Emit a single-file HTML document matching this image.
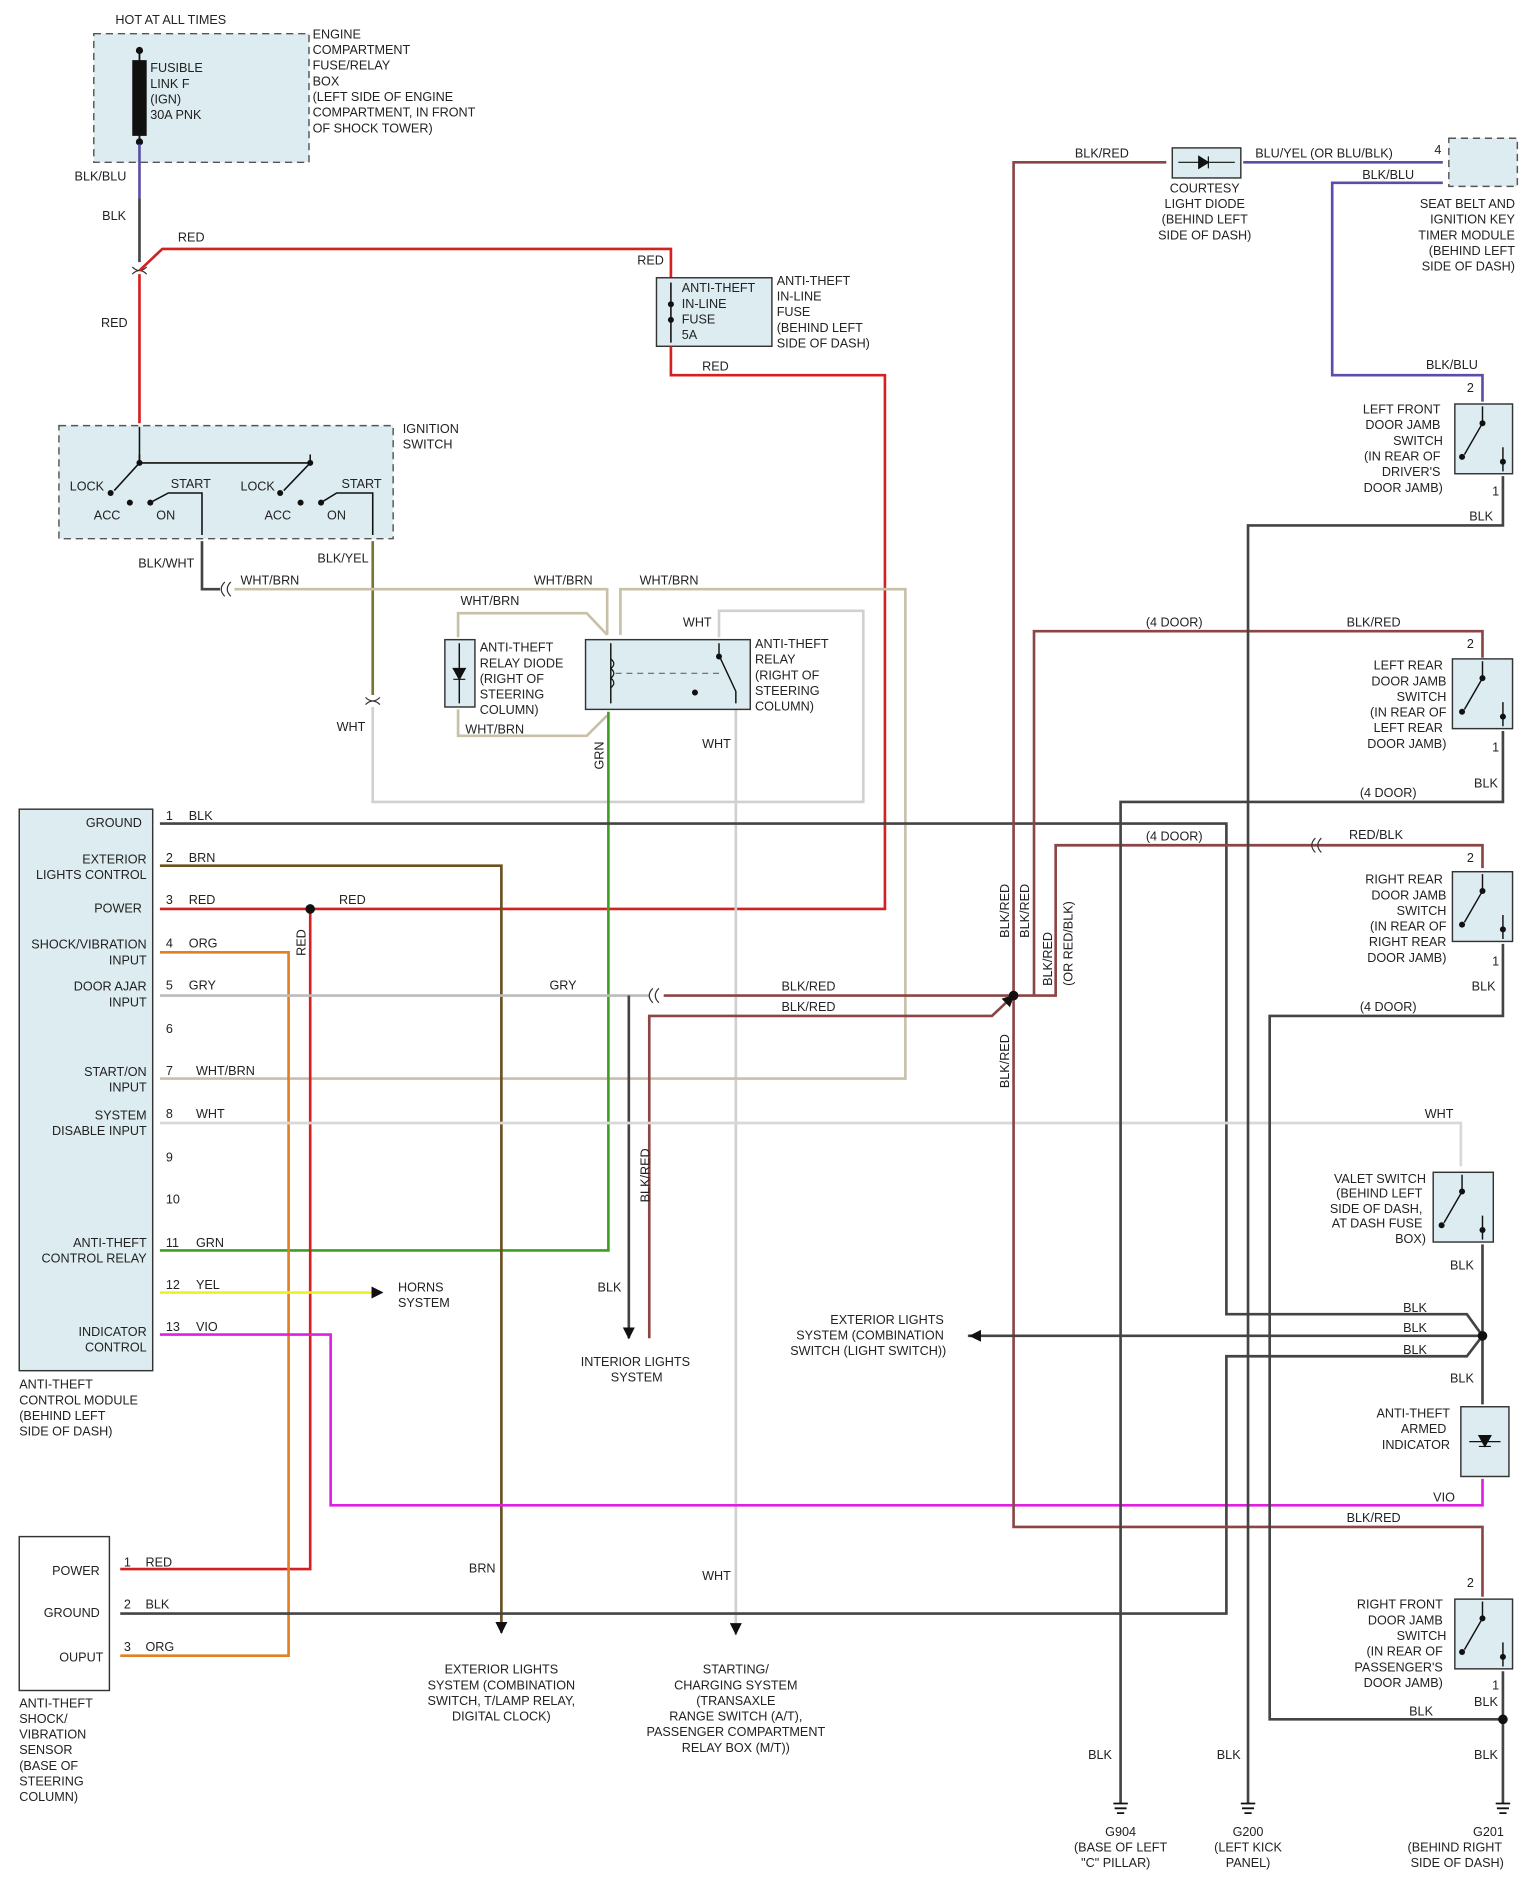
<!DOCTYPE html>
<html><head><meta charset="utf-8"><style>
html,body{margin:0;padding:0;background:#fff;}
svg{display:block;}
text{font-family:"Liberation Sans",sans-serif;font-size:10.5px;fill:#222;}
.bx{fill:#dcecf0;stroke:#333;stroke-width:1.2;}
.db{fill:#dcecf0;stroke:#555;stroke-width:1.2;stroke-dasharray:6,4;}
.w{fill:none;stroke-width:2.2;}
</style></head><body>
<svg width="1539" height="1899" viewBox="0 0 1280 1579.4" xmlns="http://www.w3.org/2000/svg">
<defs><marker id="ar" markerWidth="10" markerHeight="10" refX="9" refY="5" orient="auto" markerUnits="userSpaceOnUse"><path d="M0,0 L10,5 L0,10z" fill="#111"/></marker></defs>
<rect width="1280" height="1580" fill="#fff"/>
<!-- fuse box -->
<text x="96" y="20">HOT AT ALL TIMES</text>
<rect class="db" x="78" y="28" width="179" height="107"/>
<rect x="110" y="50" width="12" height="63" fill="#111"/>
<line x1="116" y1="40" x2="116" y2="118" stroke="#111" stroke-width="1.5"/>
<circle cx="116" cy="42" r="3" fill="#111"/><circle cx="116" cy="118" r="3" fill="#111"/>
<text x="125" y="60">FUSIBLE</text><text x="125" y="73">LINK F</text><text x="125" y="86">(IGN)</text><text x="125" y="99">30A PNK</text>
<text x="260" y="32">ENGINE</text><text x="260" y="45">COMPARTMENT</text><text x="260" y="58">FUSE/RELAY</text><text x="260" y="71">BOX</text><text x="260" y="84">(LEFT SIDE OF ENGINE</text><text x="260" y="97">COMPARTMENT, IN FRONT</text><text x="260" y="110">OF SHOCK TOWER)</text>
<line class="w" x1="116" y1="120" x2="116" y2="165" stroke="#5a4fa8"/>
<text x="62" y="150">BLK/BLU</text><text x="85" y="183">BLK</text>
<line class="w" x1="116" y1="165" x2="116" y2="218" stroke="#444"/>
<path d="M110,222 q6,6 12,0 M110,228 q6,-6 12,0" stroke="#333" fill="none"/>
<path class="w" d="M116,228 L116,352 M116,225 L135,207 L558,207 L558,232" stroke="#d42020"/>
<text x="148" y="201">RED</text><text x="84" y="272">RED</text><text x="530" y="220">RED</text>
<!-- anti-theft fuse -->
<rect class="bx" x="546" y="231" width="96" height="57"/>
<line x1="558" y1="235" x2="558" y2="285" stroke="#111" stroke-width="1.3"/>
<circle cx="558" cy="253" r="2.5" fill="#111"/><circle cx="558" cy="266" r="2.5" fill="#111"/>
<text x="567" y="243">ANTI-THEFT</text><text x="567" y="256">IN-LINE</text><text x="567" y="269">FUSE</text><text x="567" y="282">5A</text>
<text x="646" y="237">ANTI-THEFT</text><text x="646" y="250">IN-LINE</text><text x="646" y="263">FUSE</text><text x="646" y="276">(BEHIND LEFT</text><text x="646" y="289">SIDE OF DASH)</text>
<path class="w" d="M558,288 L558,312 L736,312 L736,756 L133,756" stroke="#d42020"/>
<text x="584" y="308">RED</text>
<!-- ignition switch -->
<rect class="db" x="49" y="354" width="278" height="94"/>
<text x="335" y="360">IGNITION</text><text x="335" y="373">SWITCH</text>
<g stroke="#111" stroke-width="1.3" fill="none">
<path d="M116,355 L116,385 L95,408 M258,385 L236,408 M116,385 L258,385"/>
<path d="M116,385 L116,378 M258,385 L258,378"/>
<path d="M125,418 L140,410 L168,410 L168,445 M267,418 L280,410 L310,410 L310,445"/>
</g>
<g fill="#111"><circle cx="116" cy="385" r="2.5"/><circle cx="258" cy="385" r="2.5"/><circle cx="92" cy="410" r="2.5"/><circle cx="108" cy="418" r="2.5"/><circle cx="125" cy="418" r="2.5"/><circle cx="233" cy="410" r="2.5"/><circle cx="250" cy="418" r="2.5"/><circle cx="267" cy="418" r="2.5"/></g>
<text x="58" y="408">LOCK</text><text x="142" y="406">START</text><text x="78" y="432">ACC</text><text x="130" y="432">ON</text>
<text x="200" y="408">LOCK</text><text x="284" y="406">START</text><text x="220" y="432">ACC</text><text x="272" y="432">ON</text>
<text x="115" y="472">BLK/WHT</text><text x="264" y="468">BLK/YEL</text>
<path class="w" d="M168,450 L168,490 L183,490" stroke="#444"/>
<path d="M187,484 q-6,6 0,12 M192,484 q-6,6 0,12" stroke="#333" fill="none"/>
<path class="w" d="M310,450 L310,578" stroke="#7a7530"/>
<path d="M304,580 q6,6 12,0 M304,586 q6,-6 12,0" stroke="#333" fill="none"/>
<text x="280" y="608">WHT</text>
<path class="w" d="M310,588 L310,667 L718,667 L718,508 L598,508 L598,530" stroke="#d0d0d0"/>
<path class="w" d="M612,590 L612,1360" stroke="#d0d0d0"/>
<text x="568" y="521">WHT</text><text x="584" y="622">WHT</text>
<!-- WHT/BRN -->
<path class="w" d="M195,490 L505,490 L505,528 M516,528 L516,490 L753,490 L753,897 L133,897" stroke="#c8c0a8"/>
<path class="w" d="M381,530 L381,510 L488,510 L505,528 M381,590 L381,612 L488,612 L505,595" stroke="#c8c0a8"/>
<text x="200" y="486">WHT/BRN</text><text x="444" y="486">WHT/BRN</text><text x="532" y="486">WHT/BRN</text><text x="383" y="503">WHT/BRN</text><text x="387" y="610">WHT/BRN</text>
<!-- diode -->
<rect class="bx" x="370" y="532" width="25" height="56"/>
<line x1="382" y1="535" x2="382" y2="585" stroke="#111" stroke-width="1.2"/>
<path d="M377,556 L387,556 L382,565z M377,565 L387,565" fill="#111" stroke="#111"/>
<text x="399" y="542">ANTI-THEFT</text><text x="399" y="555">RELAY DIODE</text><text x="399" y="568">(RIGHT OF</text><text x="399" y="581">STEERING</text><text x="399" y="594">COLUMN)</text>
<!-- relay -->
<rect class="bx" x="487" y="532" width="137" height="58"/>
<path d="M508,535 L508,585 M598,535 L598,545 L612,575 L612,585" stroke="#111" stroke-width="1.2" fill="none"/>
<path d="M508,548 q5,4 0,8 q5,4 0,8 q5,4 0,8" stroke="#111" fill="none"/>
<line x1="512" y1="560" x2="600" y2="560" stroke="#666" stroke-dasharray="5,4"/>
<circle cx="598" cy="546" r="2.5" fill="#111"/><circle cx="578" cy="576" r="2.5" fill="#111"/>
<text x="628" y="539">ANTI-THEFT</text><text x="628" y="552">RELAY</text><text x="628" y="565">(RIGHT OF</text><text x="628" y="578">STEERING</text><text x="628" y="591">COLUMN)</text>
<path class="w" d="M506,592 L506,1040 L133,1040" stroke="#3ea020"/>
<text x="502" y="640" transform="rotate(-90 502 640)">GRN</text>
<!-- module -->
<rect class="bx" x="16" y="673" width="111" height="467"/>
<g text-anchor="end">
<text x="118" y="688">GROUND</text><text x="122" y="718">EXTERIOR</text><text x="122" y="731">LIGHTS CONTROL</text><text x="118" y="759">POWER</text>
<text x="122" y="789">SHOCK/VIBRATION</text><text x="122" y="802">INPUT</text><text x="122" y="824">DOOR AJAR</text><text x="122" y="837">INPUT</text>
<text x="122" y="895">START/ON</text><text x="122" y="908">INPUT</text><text x="122" y="931">SYSTEM</text><text x="122" y="944">DISABLE INPUT</text>
<text x="122" y="1037">ANTI-THEFT</text><text x="122" y="1050">CONTROL RELAY</text><text x="122" y="1111">INDICATOR</text><text x="122" y="1124">CONTROL</text>
</g>
<g font-size="10"><text x="138" y="682">1</text><text x="138" y="717">2</text><text x="138" y="752">3</text><text x="138" y="788">4</text><text x="138" y="823">5</text><text x="138" y="859">6</text><text x="138" y="894">7</text><text x="138" y="930">8</text><text x="138" y="966">9</text><text x="138" y="1001">10</text><text x="138" y="1037">11</text><text x="138" y="1072">12</text><text x="138" y="1107">13</text></g>
<text x="157" y="682">BLK</text><text x="157" y="717">BRN</text><text x="157" y="752">RED</text><text x="157" y="788">ORG</text><text x="157" y="823">GRY</text><text x="163" y="894">WHT/BRN</text><text x="163" y="930">WHT</text><text x="163" y="1037">GRN</text><text x="163" y="1072">YEL</text><text x="163" y="1107">VIO</text>
<text x="16" y="1155">ANTI-THEFT</text><text x="16" y="1168">CONTROL MODULE</text><text x="16" y="1181">(BEHIND LEFT</text><text x="16" y="1194">SIDE OF DASH)</text>
<!-- module wires -->
<path class="w" d="M133,685 L1020,685 L1020,1093 L1220,1093 L1233,1111" stroke="#444"/>
<path class="w" d="M133,720 L417,720 L417,1358" stroke="#6b5020" marker-end="url(#ar)"/>
<text x="282" y="752">RED</text>
<path class="w" d="M258,756 L258,1305 L100,1305" stroke="#d42020"/>
<circle cx="258" cy="756" r="4" fill="#111"/>
<text x="254" y="795" transform="rotate(-90 254 795)">RED</text>
<path class="w" d="M133,792 L240,792 L240,1377 L100,1377" stroke="#e08020"/>
<path class="w" d="M133,828 L540,828" stroke="#bbb"/>
<text x="457" y="823">GRY</text>
<path d="M543,822 q-6,6 0,12 M548,822 q-6,6 0,12" stroke="#333" fill="none"/>
<path class="w" d="M552,828 L843,828 L878,828 L878,703 L1233,703 L1233,722 M860,828 L860,525 L1233,525 L1233,547" stroke="#8b4545"/>
<path class="w" d="M523,828 L523,1113" stroke="#444" marker-end="url(#ar)"/>
<path class="w" d="M540,1113 L540,845 L825,845 L843,828" stroke="#8b4545" marker-end="url(#ar)"/>
<text x="650" y="824">BLK/RED</text><text x="650" y="841">BLK/RED</text>
<text x="540" y="1000" transform="rotate(-90 540 1000)">BLK/RED</text><text x="497" y="1074">BLK</text>
<text x="483" y="1136">INTERIOR LIGHTS</text><text x="508" y="1149">SYSTEM</text>
<path class="w" d="M133,934 L1215,934 L1215,970" stroke="#d8d8d8"/>
<text x="1185" y="930">WHT</text>
<path class="w" d="M133,1075 L318,1075" stroke="#f0f020" marker-end="url(#ar)"/>
<text x="331" y="1074">HORNS</text><text x="331" y="1087">SYSTEM</text>
<path class="w" d="M133,1110 L275,1110 L275,1252 L1233,1252 L1233,1230" stroke="#e020e0"/>
<text x="1192" y="1249">VIO</text>
<!-- sensor -->
<rect x="16" y="1278" width="75" height="128" fill="#fff" stroke="#333" stroke-width="1.2"/>
<text x="83" y="1310" text-anchor="end">POWER</text><text x="83" y="1345" text-anchor="end">GROUND</text><text x="86" y="1382" text-anchor="end">OUPUT</text>
<text x="103" y="1303">1</text><text x="103" y="1338">2</text><text x="103" y="1373">3</text>
<text x="121" y="1303">RED</text><text x="121" y="1338">BLK</text><text x="121" y="1373">ORG</text>
<text x="16" y="1420">ANTI-THEFT</text><text x="16" y="1433">SHOCK/</text><text x="16" y="1446">VIBRATION</text><text x="16" y="1459">SENSOR</text><text x="16" y="1472">(BASE OF</text><text x="16" y="1485">STEERING</text><text x="16" y="1498">COLUMN)</text>
<path class="w" d="M100,1342 L1020,1342 L1020,1128 L1220,1128 L1233,1111" stroke="#444"/>
<text x="390" y="1308">BRN</text><text x="584" y="1314">WHT</text>
<path d="M612,1358 l0,1" stroke="#d0d0d0" marker-end="url(#ar)"/>
<g text-anchor="middle"><text x="417" y="1392">EXTERIOR LIGHTS</text><text x="417" y="1405">SYSTEM (COMBINATION</text><text x="417" y="1418">SWITCH, T/LAMP RELAY,</text><text x="417" y="1431">DIGITAL CLOCK)</text>
<text x="612" y="1392">STARTING/</text><text x="612" y="1405">CHARGING SYSTEM</text><text x="612" y="1418">(TRANSAXLE</text><text x="612" y="1431">RANGE SWITCH (A/T),</text><text x="612" y="1444">PASSENGER COMPARTMENT</text><text x="612" y="1457">RELAY BOX (M/T))</text></g>
<!-- right side -->
<path class="w" d="M843,828 L843,135 L970,135 M843,828 L843,1270 L1233,1270 L1233,1328" stroke="#8b4545"/>
<circle cx="843" cy="828" r="4" fill="#111"/>
<text x="894" y="131">BLK/RED</text><text x="1120" y="1266">BLK/RED</text>
<text x="839" y="780" transform="rotate(-90 839 780)">BLK/RED</text><text x="856" y="780" transform="rotate(-90 856 780)">BLK/RED</text>
<text x="875" y="820" transform="rotate(-90 875 820)">BLK/RED</text><text x="892" y="820" transform="rotate(-90 892 820)">(OR RED/BLK)</text>
<text x="839" y="905" transform="rotate(-90 839 905)">BLK/RED</text>
<rect class="bx" x="975" y="123" width="57" height="25"/>
<path d="M980,135 L1027,135 M997,130 L997,140 L1005,135z M1005,130 L1005,140" stroke="#111" fill="#111"/>
<g text-anchor="middle"><text x="1002" y="160">COURTESY</text><text x="1002" y="173">LIGHT DIODE</text><text x="1002" y="186">(BEHIND LEFT</text><text x="1002" y="199">SIDE OF DASH)</text></g>
<path class="w" d="M1034,135 L1200,135" stroke="#5a4fa8"/>
<text x="1044" y="131">BLU/YEL (OR BLU/BLK)</text><text x="1193" y="128">4</text>
<rect class="db" x="1205" y="115" width="57" height="40"/>
<path class="w" d="M1200,152 L1108,152 L1108,312 L1233,312 L1233,334" stroke="#5a4fa8"/>
<text x="1133" y="149">BLK/BLU</text><text x="1186" y="307">BLK/BLU</text>
<g text-anchor="end"><text x="1260" y="173">SEAT BELT AND</text><text x="1260" y="186">IGNITION KEY</text><text x="1260" y="199">TIMER MODULE</text><text x="1260" y="212">(BEHIND LEFT</text><text x="1260" y="225">SIDE OF DASH)</text></g>
<!-- switches -->
<g id="sw">
</g>
<rect class="bx" x="1210" y="336" width="48" height="58"/>
<rect class="bx" x="1208" y="548" width="50" height="58"/>
<rect class="bx" x="1208" y="725" width="50" height="58"/>
<rect class="bx" x="1192" y="975" width="50" height="58"/>
<rect class="bx" x="1210" y="1330" width="48" height="58"/>
<g stroke="#111" stroke-width="1.2" fill="none">
<path d="M1233,338 L1233,352 L1218,378 M1250,372 L1250,392"/>
<path d="M1233,550 L1233,564 L1218,590 M1250,584 L1250,604"/>
<path d="M1233,727 L1233,741 L1218,767 M1250,761 L1250,781"/>
<path d="M1216,977 L1216,991 L1201,1017 M1233,1011 L1233,1031"/>
<path d="M1233,1332 L1233,1346 L1218,1372 M1250,1366 L1250,1386"/>
</g>
<g fill="#111"><circle cx="1233" cy="352" r="2.5"/><circle cx="1216" cy="380" r="2.5"/><circle cx="1250" cy="384" r="2.5"/>
<circle cx="1233" cy="564" r="2.5"/><circle cx="1216" cy="592" r="2.5"/><circle cx="1250" cy="596" r="2.5"/>
<circle cx="1233" cy="741" r="2.5"/><circle cx="1216" cy="769" r="2.5"/><circle cx="1250" cy="773" r="2.5"/>
<circle cx="1216" cy="991" r="2.5"/><circle cx="1199" cy="1019" r="2.5"/><circle cx="1233" cy="1023" r="2.5"/>
<circle cx="1233" cy="1346" r="2.5"/><circle cx="1216" cy="1374" r="2.5"/><circle cx="1250" cy="1378" r="2.5"/></g>
<text x="1220" y="326">2</text><text x="1241" y="412">1</text><text x="1220" y="539">2</text><text x="1241" y="625">1</text><text x="1220" y="717">2</text><text x="1241" y="803">1</text><text x="1220" y="1320">2</text><text x="1241" y="1405">1</text>
<g text-anchor="end">
<text x="1198" y="344">LEFT FRONT</text><text x="1198" y="357">DOOR JAMB</text><text x="1200" y="370">SWITCH</text><text x="1198" y="383">(IN REAR OF</text><text x="1198" y="396">DRIVER'S</text><text x="1200" y="409">DOOR JAMB)</text>
<text x="1200" y="557">LEFT REAR</text><text x="1203" y="570">DOOR JAMB</text><text x="1203" y="583">SWITCH</text><text x="1203" y="596">(IN REAR OF</text><text x="1200" y="609">LEFT REAR</text><text x="1203" y="622">DOOR JAMB)</text>
<text x="1200" y="735">RIGHT REAR</text><text x="1203" y="748">DOOR JAMB</text><text x="1203" y="761">SWITCH</text><text x="1203" y="774">(IN REAR OF</text><text x="1203" y="787">RIGHT REAR</text><text x="1203" y="800">DOOR JAMB)</text>
<text x="1186" y="984">VALET SWITCH</text><text x="1183" y="996">(BEHIND LEFT</text><text x="1183" y="1009">SIDE OF DASH,</text><text x="1183" y="1021">AT DASH FUSE</text><text x="1186" y="1034">BOX)</text>
<text x="1206" y="1179">ANTI-THEFT</text><text x="1203" y="1192">ARMED</text><text x="1206" y="1205">INDICATOR</text>
<text x="1200" y="1338">RIGHT FRONT</text><text x="1200" y="1351">DOOR JAMB</text><text x="1203" y="1364">SWITCH</text><text x="1200" y="1377">(IN REAR OF</text><text x="1200" y="1390">PASSENGER'S</text><text x="1200" y="1403">DOOR JAMB)</text>
</g>
<text x="953" y="521">(4 DOOR)</text><text x="1120" y="521">BLK/RED</text>
<text x="953" y="699">(4 DOOR)</text><text x="1122" y="698">RED/BLK</text>
<path d="M1094,697 q-6,6 0,12 M1099,697 q-6,6 0,12" stroke="#333" fill="none"/>
<!-- grounds -->
<path class="w" d="M1250,396 L1250,437 L1038,437 L1038,1500" stroke="#444"/>
<text x="1222" y="433">BLK</text>
<path class="w" d="M1250,608 L1250,667 L932,667 L932,1500" stroke="#444"/>
<text x="1226" y="655">BLK</text><text x="1131" y="663">(4 DOOR)</text>
<path class="w" d="M1250,785 L1250,845 L1056,845 L1056,1430 L1250,1430 M1250,1390 L1250,1500" stroke="#444"/>
<text x="1224" y="824">BLK</text><text x="1131" y="841">(4 DOOR)</text>
<circle cx="1250" cy="1430" r="4" fill="#111"/>
<text x="1172" y="1427">BLK</text><text x="1226" y="1419">BLK</text>
<path class="w" d="M1233,1035 L1233,1168 M1233,1111 L805,1111" stroke="#444"/>
<path d="M808,1111 l-1,0" stroke="#111" stroke-width="2.2" marker-end="url(#ar)"/>
<circle cx="1233" cy="1111" r="4" fill="#111"/>
<text x="1206" y="1056">BLK</text><text x="1167" y="1091">BLK</text><text x="1167" y="1108">BLK</text><text x="1167" y="1126">BLK</text><text x="1206" y="1150">BLK</text>
<g text-anchor="end"><text x="785" y="1101">EXTERIOR LIGHTS</text><text x="785" y="1114">SYSTEM (COMBINATION</text><text x="787" y="1127">SWITCH (LIGHT SWITCH))</text></g>
<rect class="bx" x="1215" y="1170" width="40" height="58"/>
<path d="M1230,1194 L1240,1194 L1235,1203z M1230,1203 L1240,1203 M1222,1199 L1248,1199" stroke="#111" fill="#111"/>
<text x="905" y="1463">BLK</text><text x="1012" y="1463">BLK</text><text x="1226" y="1463">BLK</text>
<g stroke="#111" stroke-width="1.5"><path d="M926,1500 h12 M927,1504 h10 M929,1508 h6"/><path d="M1032,1500 h12 M1033,1504 h10 M1035,1508 h6"/><path d="M1244,1500 h12 M1245,1504 h10 M1247,1508 h6"/></g>
<g text-anchor="middle"><text x="932" y="1527">G904</text><text x="932" y="1540">(BASE OF LEFT</text><text x="928" y="1553">"C" PILLAR)</text>
<text x="1038" y="1527">G200</text><text x="1038" y="1540">(LEFT KICK</text><text x="1038" y="1553">PANEL)</text>
<text x="1238" y="1527">G201</text><text x="1210" y="1540">(BEHIND RIGHT</text><text x="1212" y="1553">SIDE OF DASH)</text></g>
</svg>
</body></html>
